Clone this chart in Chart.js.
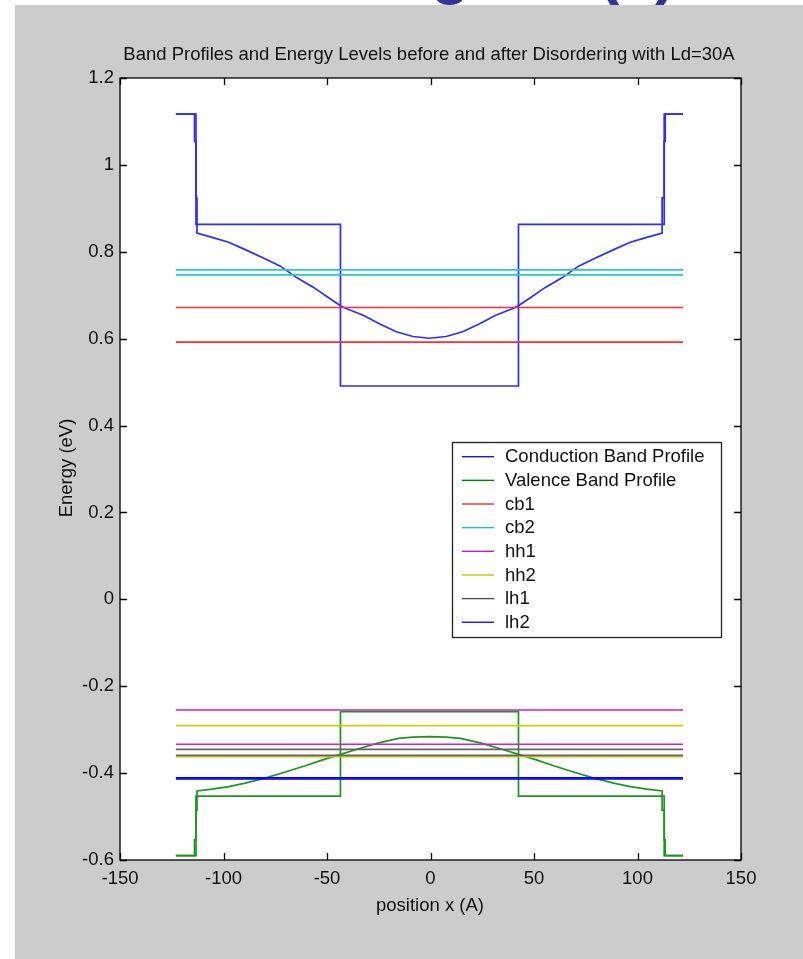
<!DOCTYPE html>
<html><head><meta charset="utf-8">
<script src="https://cdn.jsdelivr.net/npm/chart.js@4/dist/chart.umd.min.js"></script>
<style>html,body{margin:0;padding:0;background:#fff;overflow:hidden}canvas{display:block}</style>
</head><body>
<canvas id="c" width="803" height="959"></canvas>
<script>
// ---------- data ----------
const chartTitle = "Band Profiles and Energy Levels before and after Disordering with Ld=30A";
const xAxisTitle = "position x (A)";
const yAxisTitle = "Energy (eV)";
const xTickLabels = ["-150","-100","-50","0","50","100","150"];
const yTickLabels = ["-0.6","-0.4","-0.2","0","0.2","0.4","0.6","0.8","1","1.2"];
const legendLabels = ["Conduction Band Profile","Valence Band Profile","cb1","cb2","hh1","hh2","lh1","lh2"];

// conduction band, square well (before disordering)
const cbBeforeX = [-123,-113.3,-113.3,-43.5,-43.5,42.5,42.5,112.9,112.9,122];
const cbBeforeY = [1.117,1.117,0.863,0.863,0.491,0.491,0.863,0.863,1.117,1.117];
// conduction band after disordering
const cbAfterX = [-123,-114,-114,-113.3,-113.3,-112.8,-112.8,-105.5,-97.5,-89.5,-80.5,-72.5,-64.5,-56.5,-48.5,-43.5,-40.5,-32.5,-24.5,-16.5,-8.5,-0.5,7.5,15.5,23.5,31.5,39.5,42.5,47.5,55.5,63.5,71.5,79.5,88.5,96.5,104.5,111.9,111.9,112.9,112.9,113.4,113.4,122];
const cbAfterY = [1.117,1.117,1.054,1.054,0.924,0.924,0.843,0.833,0.822,0.805,0.785,0.767,0.740,0.718,0.692,0.676,0.669,0.654,0.634,0.616,0.605,0.601,0.605,0.616,0.634,0.654,0.669,0.676,0.692,0.718,0.740,0.767,0.785,0.805,0.822,0.833,0.843,0.924,0.924,1.054,1.054,1.117,1.117];
// valence band, square well (before)
const vbBeforeX = [-123,-113.3,-113.3,-43.5,-43.5,42.5,42.5,112.9,112.9,122];
const vbBeforeY = [-0.590,-0.590,-0.453,-0.453,-0.2585,-0.2585,-0.453,-0.453,-0.590,-0.590];
// valence band after disordering
const vbAfterX = [-123,-114,-114,-113.3,-113.3,-112.8,-112.8,-105.5,-97.5,-89.5,-79.5,-70.5,-60.5,-52.5,-43.5,-35.5,-25.5,-15.5,-8.5,-0.5,7.5,14.5,24.5,34.5,42.5,51.5,59.5,69.5,78.5,88.5,96.5,104.5,111.9,111.9,112.9,112.9,113.4,113.4,122];
const vbAfterY = [-0.590,-0.590,-0.5535,-0.5535,-0.485,-0.485,-0.441,-0.437,-0.431,-0.423,-0.411,-0.398,-0.383,-0.370,-0.357,-0.345,-0.331,-0.320,-0.317,-0.316,-0.317,-0.320,-0.331,-0.345,-0.357,-0.370,-0.383,-0.398,-0.411,-0.423,-0.431,-0.437,-0.441,-0.485,-0.485,-0.5535,-0.5535,-0.590,-0.590];

// energy levels (before, after) spanning the structure
const levelX = [-123,122];
const cb1Levels = [0.6717,0.592];
const cb2Levels = [0.7585,0.747];
const hh1Levels = [-0.2547,-0.3336];
const hh2Levels = [-0.2908,-0.3622];
const lh1Levels = [-0.3452,-0.359];
const lh2Levels = [-0.411,-0.4135];

// ---------- styling ----------
const FONT = "'Liberation Sans', Arial, sans-serif";
const FS = 18.5;
const col = {
  cb:'rgb(45,45,255)', vb:'rgb(30,150,30)', cb1:'rgb(255,45,45)', cb2:'rgb(40,200,200)',
  hh1:'rgb(210,30,210)', hh2:'rgb(205,205,20)', lh1:'rgb(100,100,100)', lh2:'rgb(0,0,255)'
};
const legCol = ['rgb(20,20,255)','rgb(0,130,0)','rgb(255,40,40)','rgb(30,195,195)','rgb(205,20,205)','rgb(200,200,0)','rgb(80,80,80)','rgb(20,20,255)'];

function pts(xs, ys){ return xs.map((x,i)=>({x:x, y:ys[i]})); }
function lvl(v){ return levelX.map(x=>({x:x, y:v})); }

const datasets = [];
function add(data, color, order){ datasets.push({data, borderColor:color, borderWidth:1.7, pointRadius:0, fill:false, tension:0, order}); }
add(pts(cbBeforeX,cbBeforeY), col.cb, 20);
add(pts(cbAfterX,cbAfterY), col.cb, 19);
add(pts(vbBeforeX,vbBeforeY), col.vb, 18);
add(pts(vbAfterX,vbAfterY), col.vb, 17);
[[cb1Levels,col.cb1],[cb2Levels,col.cb2],[hh1Levels,col.hh1],[hh2Levels,col.hh2],[lh1Levels,col.lh1],[lh2Levels,col.lh2]].forEach((p,k)=>{
  p[0].forEach((v,j)=>add(lvl(v), p[1], 10-k));
});

const deco = {
  id:'deco',
  beforeDraw(chart){
    const c = chart.ctx, a = chart.chartArea;
    c.save();
    c.fillStyle = '#ffffff'; c.fillRect(0,0,chart.width,chart.height);
    // slide heading, mostly cut off above the figure
    c.fillStyle = '#333399';
    c.font = "bold 64px " + FONT;
    c.textBaseline = 'alphabetic';
    c.textAlign = 'right'; c.fillText("Quantum Well Disordering", 470, -8);
    c.textAlign = 'left'; c.fillText("(2)", 598, -8);
    c.fillStyle = '#cccccc'; c.fillRect(15,5,chart.width-15,chart.height-5);
    c.fillStyle = '#ffffff'; c.fillRect(a.left,a.top,a.right-a.left,a.bottom-a.top);
    c.restore();
  },
  afterDraw(chart){
    const c = chart.ctx, a = chart.chartArea, xs = chart.scales.x, ys = chart.scales.y;
    c.save();
    // axes box
    c.strokeStyle = '#000'; c.lineWidth = 1.3;
    c.strokeRect(a.left, a.top, a.right-a.left, a.bottom-a.top);
    // inward ticks on all sides
    c.beginPath();
    xs.ticks.forEach(t=>{ const p = Math.round(xs.getPixelForValue(t.value))+0.5;
      c.moveTo(p,a.bottom); c.lineTo(p,a.bottom-7); c.moveTo(p,a.top); c.lineTo(p,a.top+7); });
    ys.ticks.forEach(t=>{ const p = Math.round(ys.getPixelForValue(t.value))+0.5;
      c.moveTo(a.left,p); c.lineTo(a.left+7,p); c.moveTo(a.right,p); c.lineTo(a.right-7,p); });
    c.stroke();
    // title
    c.fillStyle = '#111';
    c.textAlign = 'center'; c.textBaseline = 'middle';
    c.font = FS + "px " + FONT;
    c.fillText(chartTitle, 429, 55);
    // axis titles
    c.fillText(xAxisTitle, 430, 906);
    c.save(); c.translate(67, 468); c.rotate(-Math.PI/2);
    c.fillText(yAxisTitle, 0, 0); c.restore();
    // legend
    const L = 452, T = 442, R = 721, B = 637;
    c.fillStyle = '#fff'; c.fillRect(L,T,R-L,B-T);
    c.strokeStyle = '#222'; c.lineWidth = 1.3; c.strokeRect(L+0.5,T+0.5,R-L,B-T);
    c.textAlign = 'left'; c.textBaseline = 'middle';
    legendLabels.forEach((lab,i)=>{
      const y = 456.7 + i*23.65;
      c.strokeStyle = legCol[i]; c.lineWidth = 1.4;
      c.beginPath(); c.moveTo(462, y); c.lineTo(494, y); c.stroke();
      c.fillStyle = '#111'; c.fillText(lab, 505, y+0.5);
    });
    c.restore();
  }
};

new Chart(document.getElementById('c'), {
  type:'line',
  data:{datasets},
  options:{
    responsive:false, animation:false, devicePixelRatio:1,
    layout:{padding:{left:0, top:78, right:62, bottom:0}},
    plugins:{legend:{display:false}, tooltip:{enabled:false}, title:{display:false}},
    scales:{
      x:{type:'linear', min:-150, max:150,
         grid:{display:false, drawTicks:false}, border:{display:false},
         afterFit:s=>{s.height = 99;},
         ticks:{stepSize:50, padding:8, color:'#111', font:{family:FONT, size:FS}, maxRotation:0,
           callback:(v,i)=>xTickLabels[i]}},
      y:{type:'linear', min:-0.6, max:1.2,
         grid:{display:false, drawTicks:false}, border:{display:false},
         afterFit:s=>{s.width = 120;},
         ticks:{stepSize:0.2, padding:6, color:'#111', font:{family:FONT, size:FS},
           callback:(v,i)=>yTickLabels[i]}}
    }
  },
  plugins:[deco]
});
</script>
</body></html>
